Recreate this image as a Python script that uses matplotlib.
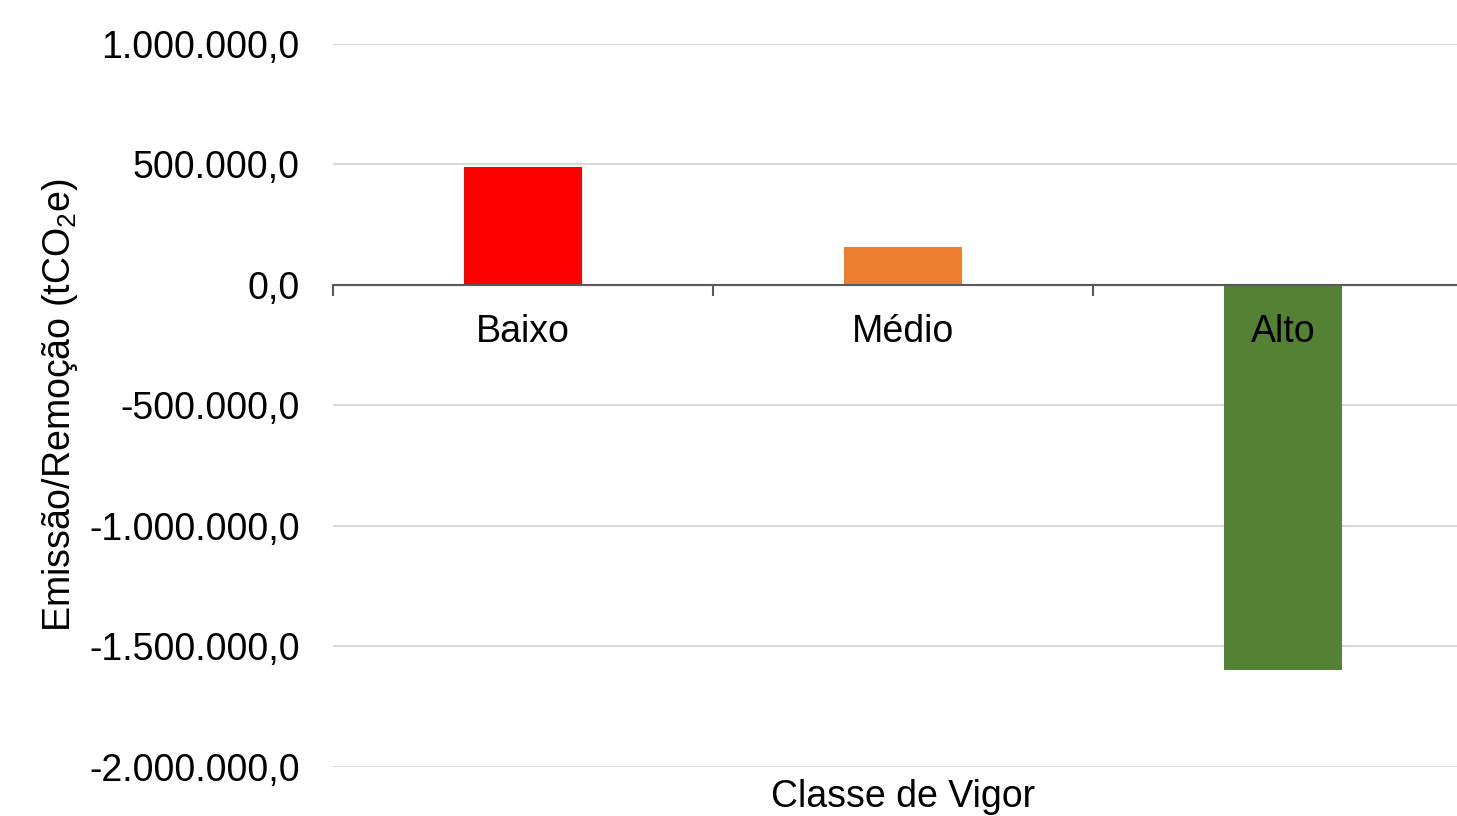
import numpy as np
import matplotlib.pyplot as plt
from matplotlib.ticker import FuncFormatter

plt.rcParams['font.family'] = ['Liberation Sans', 'DejaVu Sans']
plt.rcParams['mathtext.fontset'] = 'custom'
plt.rcParams['mathtext.rm'] = 'Liberation Sans'
plt.rcParams['mathtext.it'] = 'Liberation Sans'

categories = ['Baixo', 'Médio', 'Alto']
values = [490000.0, 158000.0, -1597000.0]
bar_colors = ['#FF0000', '#ED7D31', '#548235']
y_ticks = [1000000, 500000, 0, -500000, -1000000, -1500000, -2000000]


def br_format(v, pos=None):
    # brazilian style: 1.000.000,0
    s = '{:,.1f}'.format(v)
    return s.replace(',', 'X').replace('.', ',').replace('X', '.')


fig = plt.figure(figsize=(14.57, 8.16), dpi=100)
ax = fig.add_axes([333 / 1457, 1 - 767 / 816, 1140 / 1457, 723 / 816])

x = np.arange(len(categories))
ax.bar(x, values, width=0.313, color=bar_colors, zorder=3)

ax.set_xlim(-0.5, len(categories) - 0.5)
ax.set_ylim(-2000000, 1000000)
ax.set_yticks(y_ticks)
ax.yaxis.set_major_formatter(FuncFormatter(br_format))
ax.grid(axis='y', color='#d9d9d9', linewidth=1.5, zorder=0)

# category boundaries get the tick marks, centers get the labels
ax.set_xticks(np.arange(len(categories) + 1) - 0.5)
ax.set_xticklabels([])
ax.set_xticks(x, categories, minor=True)
ax.tick_params(axis='x', which='major', direction='out', length=8, width=1.5, color='#595959')
ax.tick_params(axis='x', which='minor', length=0, pad=21, labelsize=27)
ax.tick_params(axis='y', length=0, pad=24, labelsize=27)
ax.xaxis.set_zorder(5)  # labels on top of the bars ("Alto")

for side in ['top', 'right', 'left']:
    ax.spines[side].set_visible(False)
ax.spines['bottom'].set_position(('data', 0))
ax.spines['bottom'].set_color('#595959')
ax.spines['bottom'].set_linewidth(1.5)
ax.spines['bottom'].set_zorder(4)

ax.text(0.5, -0.042, 'Classe de Vigor', transform=ax.transAxes,
        ha='center', va='center', fontsize=27)
fig.text(60 / 1457, 1 - 405 / 816, 'Emissão/Remoção (tCO$_2$e)', rotation=90,
         ha='center', va='center', fontsize=27)

fig.savefig('out.png', dpi=100)
